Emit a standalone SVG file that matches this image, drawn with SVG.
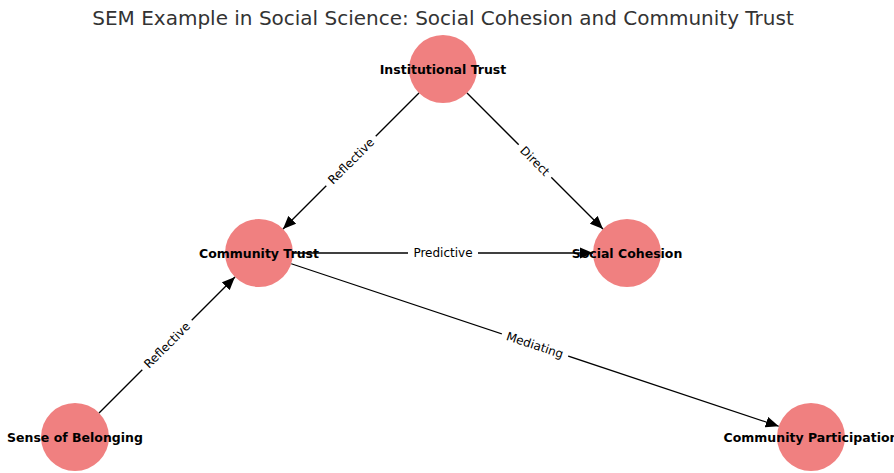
<svg xmlns="http://www.w3.org/2000/svg" width="894" height="473" viewBox="0 0 894 473">
  <style>
    .node circle { fill: #F08080; }
    .node text { font-family: "DejaVu Sans", sans-serif; font-size: 12.5px; font-weight: bold; fill: #000; text-anchor: middle; }
    .edge line { stroke: #000; stroke-width: 1.3; marker-end: url(#arrow); }
    .elabel rect { fill: #fff; }
    .elabel text { font-family: "DejaVu Sans", sans-serif; font-size: 12px; fill: #000; text-anchor: middle; }
    .title { font-family: "DejaVu Sans", sans-serif; font-size: 20px; fill: #333; text-anchor: middle; }
  </style>
  <defs>
    <marker id="arrow" markerUnits="userSpaceOnUse" markerWidth="14" markerHeight="12" refX="13" refY="6" orient="auto">
      <path d="M0,0.5 L13,6 L0,11.5 Z" fill="#000"/>
    </marker>
  </defs>

  <rect width="894" height="473" fill="#fff"/>

  <text class="title" x="443" y="25">SEM Example in Social Science: Social Cohesion and Community Trust</text>

  <!-- node discs -->
  <g id="node-institutional-trust" class="node"><circle cx="443" cy="69" r="34"/></g>
  <g id="node-community-trust" class="node"><circle cx="259" cy="253" r="34"/></g>
  <g id="node-social-cohesion" class="node"><circle cx="627" cy="253" r="34"/></g>
  <g id="node-sense-of-belonging" class="node"><circle cx="75" cy="437" r="34"/></g>
  <g id="node-community-participation" class="node"><circle cx="811" cy="437" r="34"/></g>

  <!-- directed connectors, trimmed to the circle rims -->
  <g id="connectors" class="edge">
    <line x1="418.96" y1="93.04" x2="283.04" y2="228.96"/>
    <line x1="467.04" y1="93.04" x2="602.96" y2="228.96"/>
    <line x1="293" y1="253" x2="593" y2="253"/>
    <line x1="291.26" y1="263.75" x2="778.74" y2="426.25"/>
    <line x1="99.04" y1="412.96" x2="234.96" y2="277.04"/>
  </g>

  <!-- connector labels at midpoints, aligned with their lines -->
  <g id="edge-labels">
    <g class="elabel" transform="translate(351,161) rotate(-45)">
      <rect x="-35" y="-9" width="70" height="18"/>
      <text y="4.3">Reflective</text>
    </g>
    <g class="elabel" transform="translate(535,161) rotate(45)">
      <rect x="-23" y="-9" width="46" height="18"/>
      <text y="4.3">Direct</text>
    </g>
    <g class="elabel" transform="translate(443,253)">
      <rect x="-35" y="-9" width="70" height="18"/>
      <text y="4.3">Predictive</text>
    </g>
    <g class="elabel" transform="translate(535,345) rotate(18.43)">
      <rect x="-35" y="-9" width="70" height="18"/>
      <text y="4.3">Mediating</text>
    </g>
    <g class="elabel" transform="translate(167,345) rotate(-45)">
      <rect x="-35" y="-9" width="70" height="18"/>
      <text y="4.3">Reflective</text>
    </g>
  </g>

  <!-- node captions drawn on top -->
  <g id="node-labels" class="node">
    <text x="443" y="73.5">Institutional Trust</text>
    <text x="259" y="257.5">Community Trust</text>
    <text x="627" y="257.5">Social Cohesion</text>
    <text x="75" y="441.5">Sense of Belonging</text>
    <text x="811" y="441.5">Community Participation</text>
  </g>
</svg>
